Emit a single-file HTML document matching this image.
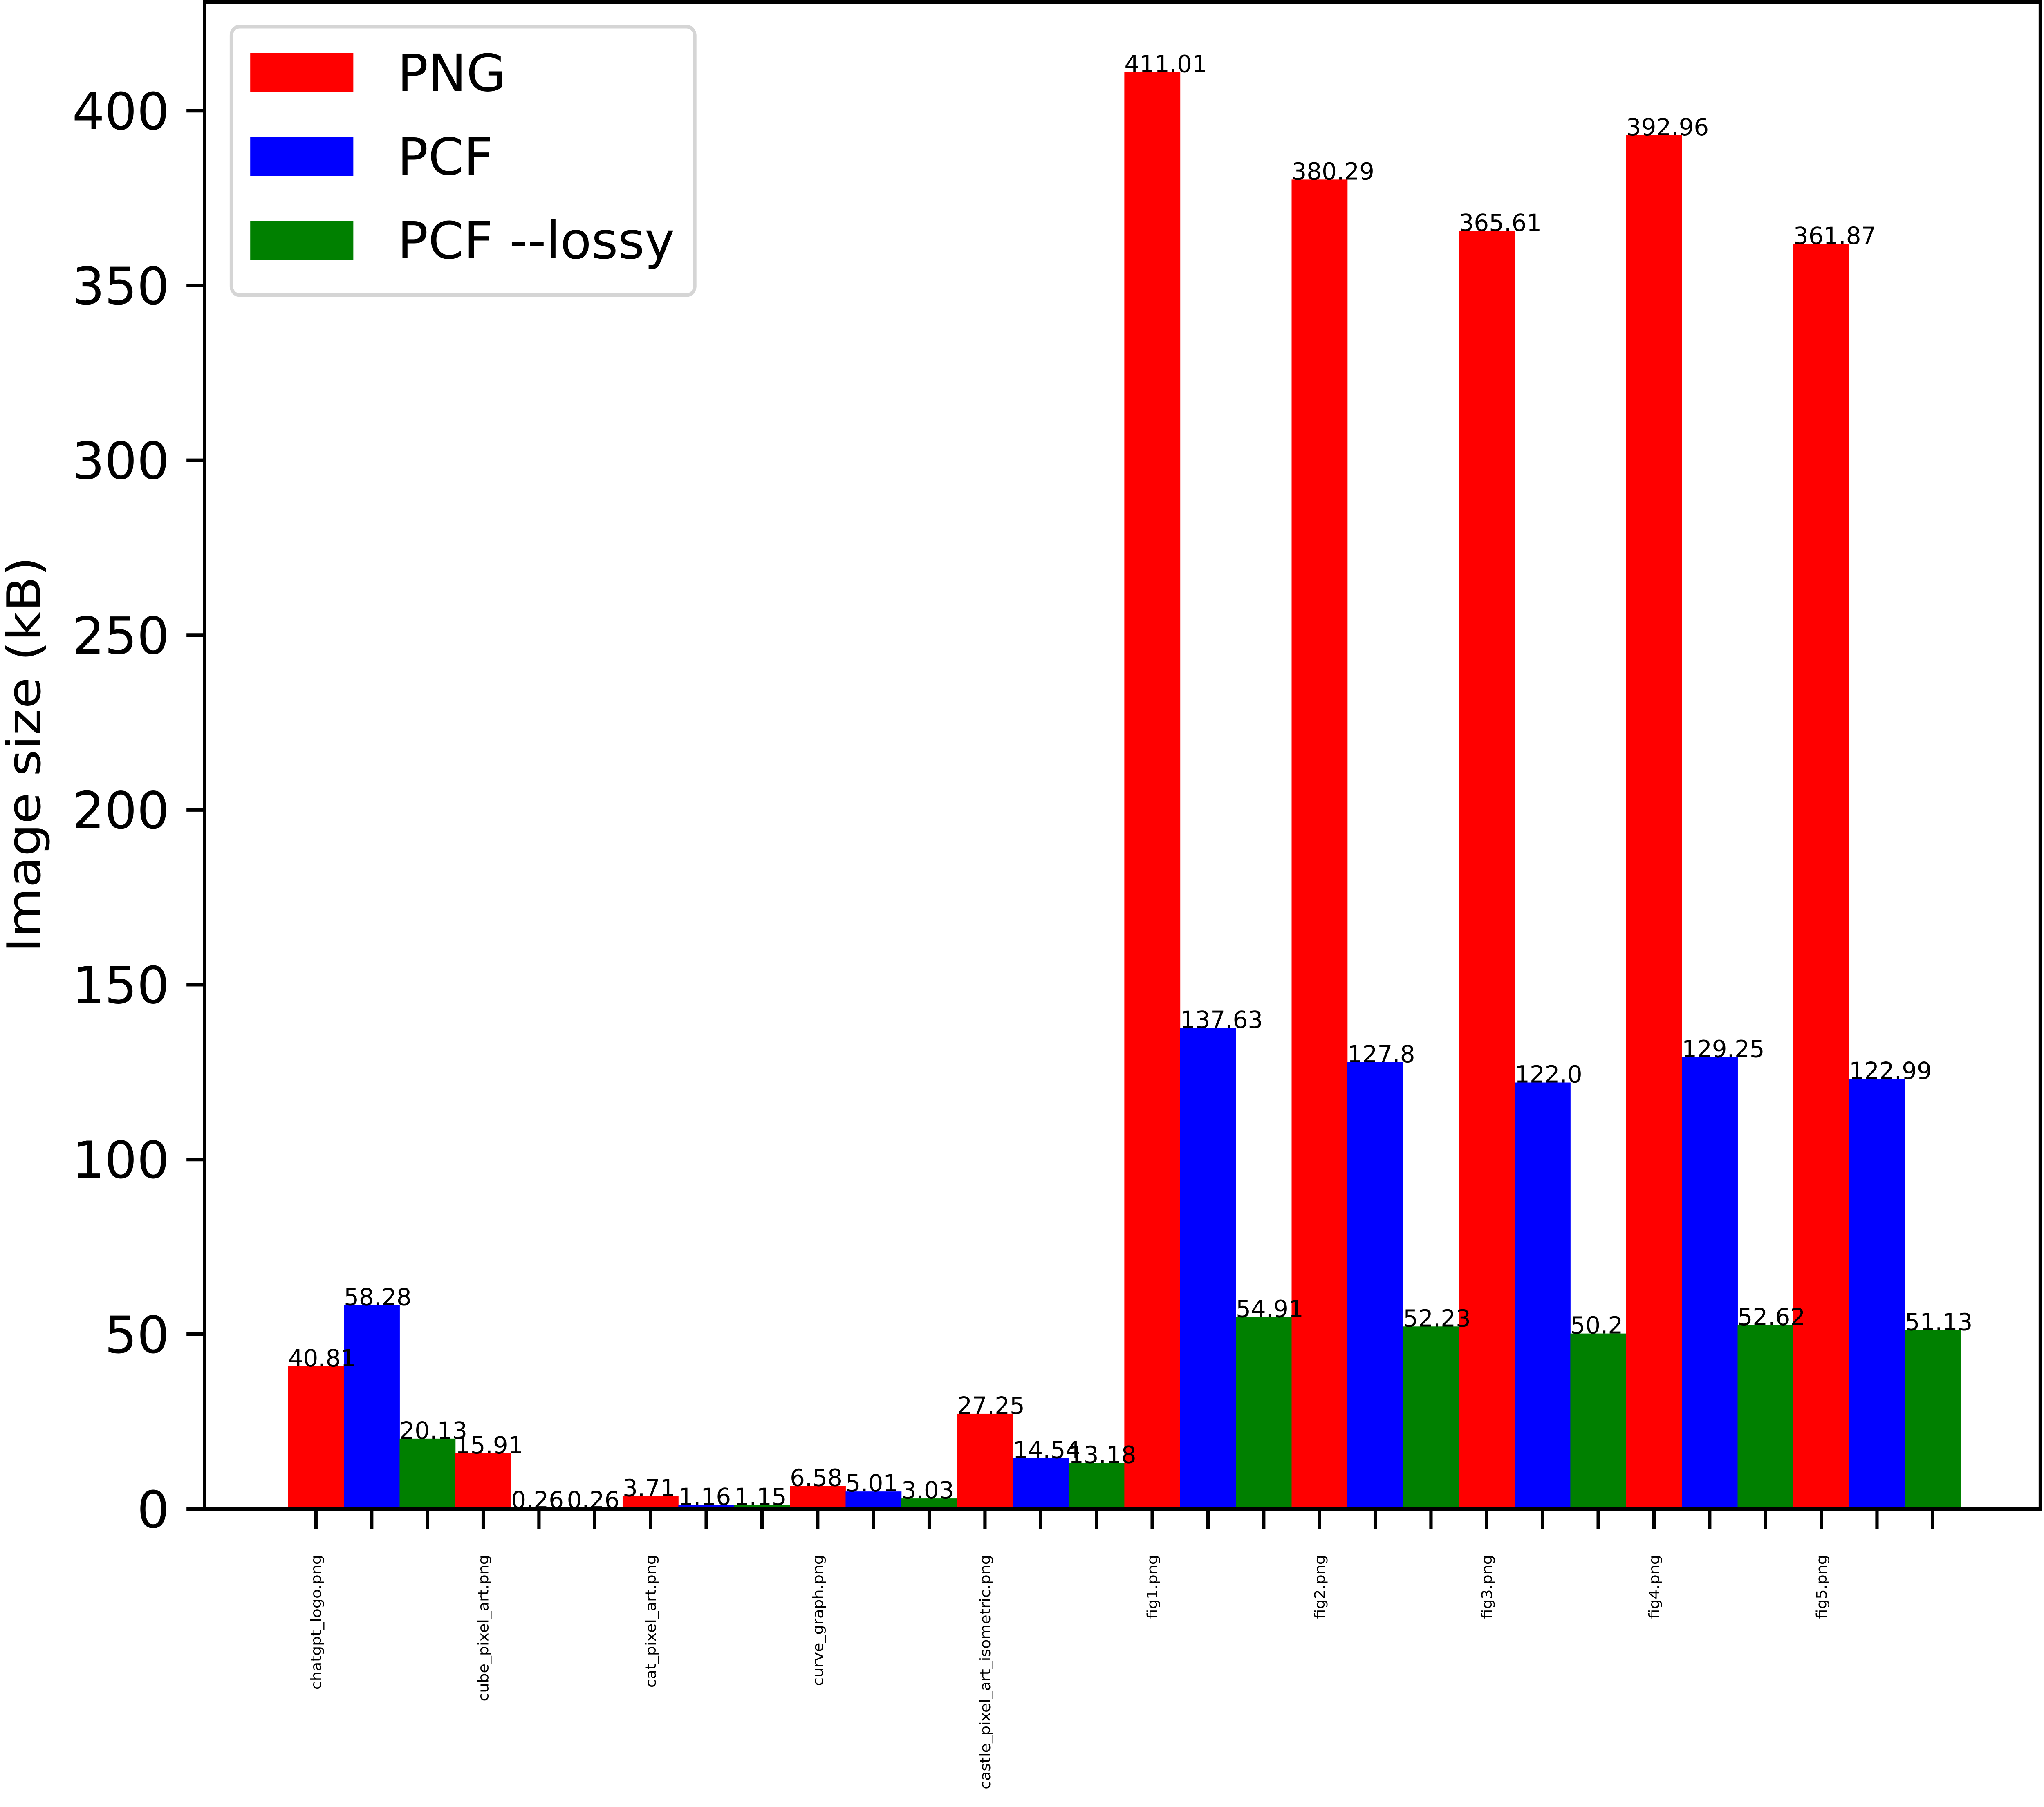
<!DOCTYPE html>
<html><head><meta charset="utf-8"><style>
html,body{margin:0;padding:0;background:#fff;overflow:hidden;width:100vw;height:100vh;}
svg{display:block;width:100vw;height:100vh;font-family:"DejaVu Sans","Liberation Sans",sans-serif;}
</style></head><body>
<svg id="chart" viewBox="0 0 5513 4421" preserveAspectRatio="none" xmlns="http://www.w3.org/2000/svg">
<rect x="0" y="0" width="5513" height="4421" fill="#fff"/>
<g id="bars"></g>
<g id="vlabels"></g>
<g id="yaxis"></g>
<g id="xaxis"></g>
<rect x="552" y="5" width="4951" height="3687" fill="none" stroke="#000" stroke-width="9"/>
<text transform="translate(108,1846) rotate(-90)" text-anchor="middle" font-size="125">Image size (kB)</text>
<g>
<rect x="624" y="65" width="1250" height="657" rx="22" fill="#fff" stroke="#d5d5d5" stroke-width="9"/>
<rect x="675" y="130" width="278" height="95" fill="#ff0000"/>
<text transform="translate(1072,222) scale(1.1,1)" font-size="125">PNG</text>
<rect x="675" y="335" width="278" height="96" fill="#0000ff"/>
<text transform="translate(1072,427) scale(1.1,1)" font-size="125">PCF</text>
<rect x="675" y="540" width="278" height="95" fill="#008000"/>
<text transform="translate(1072,632) scale(1.1,1)" font-size="125">PCF --lossy</text>
</g>
</svg>
<script>
const categories = ["chatgpt_logo.png","cube_pixel_art.png","cat_pixel_art.png","curve_graph.png","castle_pixel_art_isometric.png","fig1.png","fig2.png","fig3.png","fig4.png","fig5.png"];
const pngValues = [40.81,15.91,3.71,6.58,27.25,411.01,380.29,365.61,392.96,361.87];
const pcfValues = [58.28,0.26,1.16,5.01,14.54,137.63,127.8,122.0,129.25,122.99];
const lossyValues = [20.13,0.26,1.15,3.03,13.18,54.91,52.23,50.2,52.62,51.13];
const pngLabels = ["40.81","15.91","3.71","6.58","27.25","411.01","380.29","365.61","392.96","361.87"];
const pcfLabels = ["58.28","0.26","1.16","5.01","14.54","137.63","127.8","122.0","129.25","122.99"];
const lossyLabels = ["20.13","0.26","1.15","3.03","13.18","54.91","52.23","50.2","52.62","51.13"];
const yTicks = [0,50,100,150,200,250,300,350,400];

const NS = "http://www.w3.org/2000/svg";
const plotLeft = 552, plotBottom = 3692, pxPerUnit = 8.553;
const barW = 150.37, firstBar = 777;
const textSX = 1.1;
function yScale(v){ return plotBottom - v * pxPerUnit; }
function xBar(i){ return firstBar + i * barW; }
function mk(tag, attrs, parent){ const e = document.createElementNS(NS, tag); for (const k in attrs) e.setAttribute(k, attrs[k]); parent.appendChild(e); return e; }

const barsG = document.getElementById('bars');
const labG = document.getElementById('vlabels');
const series = [{vals: pngValues, labs: pngLabels, color: '#ff0000', key: 'png'},{vals: pcfValues, labs: pcfLabels, color: '#0000ff', key: 'pcf'},{vals: lossyValues, labs: lossyLabels, color: '#008000', key: 'pcf-lossy'}];
categories.forEach((c, ci) => {
  series.forEach((s, si) => {
    const idx = ci * 3 + si;
    const v = s.vals[ci];
    const x = xBar(idx);
    const r = mk('rect', {x: x, y: yScale(v), width: barW + 0.5, height: plotBottom - yScale(v), fill: s.color}, barsG);
    
    
    const t = mk('text', {transform: 'translate(' + x + ',' + yScale(v) + ') scale(' + textSX + ',1)', 'font-size': 58}, labG);
    t.textContent = s.labs[ci];
    
    
  });
});

const yG = document.getElementById('yaxis');
yTicks.forEach(v => {
  const y = yScale(v);
  const l = mk('line', {x1: 503, x2: plotLeft, y1: y, y2: y, stroke: '#000', 'stroke-width': 9}, yG);
  
  
  const t = mk('text', {transform: 'translate(457,' + (y + 45) + ') scale(' + textSX + ',1)', 'text-anchor': 'end', 'font-size': 125}, yG);
  t.textContent = String(v);
  
  
});

const xG = document.getElementById('xaxis');
for (let i = 0; i < categories.length * 3; i++) {
  const cx = xBar(i) + barW / 2;
  const l = mk('line', {x1: cx, x2: cx, y1: plotBottom, y2: plotBottom + 49, stroke: '#000', 'stroke-width': 9}, xG);
  
  
  if (i % 3 === 0) {
    const t = mk('text', {transform: 'translate(' + (cx + 14) + ',3804) rotate(-90)', 'text-anchor': 'end', 'font-size': 38}, xG);
    t.textContent = categories[i / 3];
    
    
  }
}
</script>
</body></html>
